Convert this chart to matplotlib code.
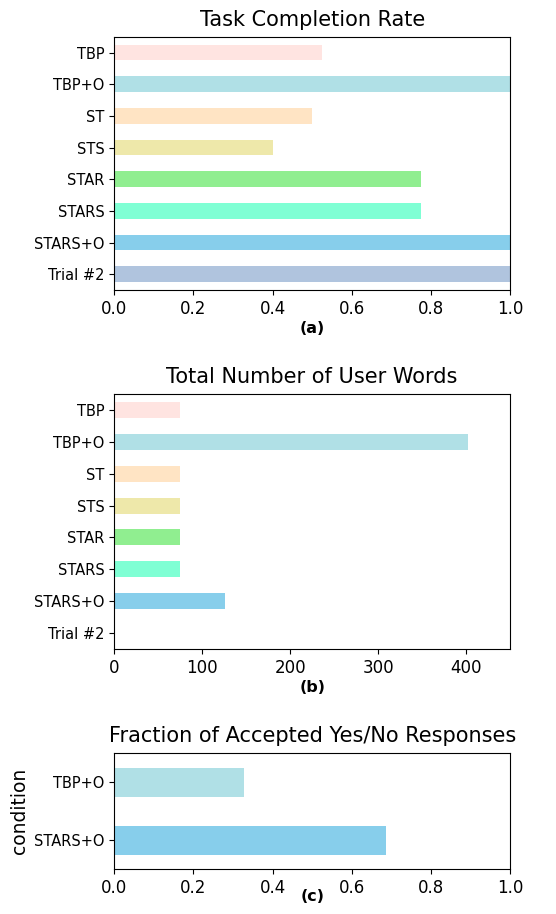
import matplotlib
matplotlib.use("Agg")
import matplotlib.pyplot as plt

# conditions listed top to bottom as in the figure
conditions = ["TBP", "TBP+O", "ST", "STS", "STAR", "STARS", "STARS+O", "Trial #2"]
colors = ["mistyrose", "powderblue", "bisque", "palegoldenrod",
          "lightgreen", "aquamarine", "skyblue", "lightsteelblue"]

completion_rate = [0.524, 1.0, 0.5, 0.4, 0.775, 0.775, 1.0, 1.0]
user_words = [75, 402, 75, 75, 75, 75, 126, 0]

yn_conditions = ["TBP+O", "STARS+O"]
yn_colors = ["powderblue", "skyblue"]
yn_accepted = [0.328, 0.686]

fig = plt.figure(figsize=(5.56, 9.14), dpi=100)
left, width = 0.2056, 0.7117
ax1 = fig.add_axes([left, 0.6827, width, 0.2771])
ax2 = fig.add_axes([left, 0.2899, width, 0.2790])
ax3 = fig.add_axes([left, 0.0489, width, 0.1269])


def hbars(ax, labels, vals, cols, title, sub, xmax):
    pos = list(range(len(labels)))[::-1]
    ax.barh(pos, vals, height=0.5, color=cols)
    ax.set_yticks(pos)
    ax.set_yticklabels(labels, fontsize=10.5)
    ax.set_ylim(-0.5, len(labels) - 0.5)
    ax.set_xlim(0, xmax)
    ax.tick_params(axis="x", labelsize=12)
    ax.set_title(title, fontsize=15, pad=8)
    ax.set_xlabel(sub, fontsize=11.5, fontweight="bold", labelpad=2)


hbars(ax1, conditions, completion_rate, colors, "Task Completion Rate", "(a)", 1.0)
hbars(ax2, conditions, user_words, colors, "Total Number of User Words", "(b)", 450)
hbars(ax3, yn_conditions, yn_accepted, yn_colors,
      "Fraction of Accepted Yes/No Responses", "(c)", 1.0)
ax3.set_ylabel("condition", fontsize=13.5)
ax3.xaxis.set_label_coords(0.5, -0.17)

fig.savefig("out.png", dpi=100)
